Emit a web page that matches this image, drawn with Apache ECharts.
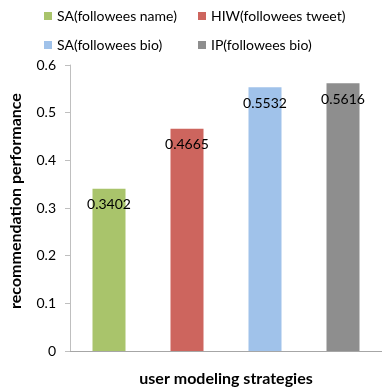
<!DOCTYPE html>
<html>
<head>
<meta charset="utf-8">
<script src="https://cdn.jsdelivr.net/npm/echarts@6/dist/echarts.min.js"></script>
<style>
  html, body { margin: 0; padding: 0; background: #ffffff; }
  #chart { width: 382px; height: 392px; }
</style>
</head>
<body>
<div id="chart"></div>
<script>
// Strategy names (one bar each) and their scores
const strategies = ['SA(followees name)', 'HIW(followees tweet)', 'SA(followees bio)', 'IP(followees bio)'];
const scores = [0.3402, 0.4665, 0.5532, 0.5616];
const barColors = ['#a9c46b', '#cd655e', '#a0c2ea', '#8e8e8e'];
const yTicks = { min: 0, max: 0.6, interval: 0.1 };

const FONT = 'Lato, "Open Sans", sans-serif';

// Each strategy is its own series so the legend lists it; stacking keeps bars centred.
const series = strategies.map((name, i) => ({
  name: name,
  type: 'bar',
  stack: 'all',
  barWidth: 33,
  itemStyle: { color: barColors[i] },
  label: {
    show: true,
    position: 'insideTop',
    distance: 9,
    color: '#000',
    fontFamily: FONT,
    fontSize: 14,
    formatter: p => p.value.toFixed(4)
  },
  data: strategies.map((_, j) => (j === i ? scores[i] : '-'))
}));

const legendSpots = [
  { left: 39, top: 4 },
  { left: 193, top: 4 },
  { left: 39, top: 33 },
  { left: 193, top: 33 }
];

const chart = echarts.init(document.getElementById('chart'));
chart.setOption({
  animation: false,
  legend: strategies.map((name, i) => ({
    data: [name],
    left: legendSpots[i].left,
    top: legendSpots[i].top,
    icon: 'rect',
    itemWidth: 8,
    itemHeight: 8,
    textStyle: { fontFamily: FONT, fontSize: 14, color: '#000' }
  })),
  grid: { left: 62, top: 65, width: 324, height: 292, containLabel: false },
  xAxis: {
    type: 'category',
    data: strategies,
    axisLine: { lineStyle: { color: '#a6a6a6' } },
    axisTick: { show: false },
    axisLabel: { show: false },
    name: 'user modeling strategies',
    nameLocation: 'middle',
    nameGap: 20,
    nameTextStyle: { fontFamily: FONT, fontSize: 16, fontWeight: 'bold', color: '#000' }
  },
  yAxis: {
    type: 'value',
    min: yTicks.min,
    max: yTicks.max,
    interval: yTicks.interval,
    axisLine: { show: true, lineStyle: { color: '#bfbfbf' } },
    axisTick: { show: true, length: 5, lineStyle: { color: '#bfbfbf' } },
    splitLine: { show: false },
    axisLabel: {
      margin: 14,
      fontFamily: FONT,
      fontSize: 14,
      color: '#000',
      formatter: v => (v === 0 ? '0' : String(Math.round(v * 10) / 10))
    },
    name: 'recommendation performance',
    nameLocation: 'middle',
    nameGap: 46,
    nameTextStyle: { fontFamily: FONT, fontSize: 16, fontWeight: 'bold', color: '#000', padding: [0, 0, 0, 14] }
  },
  series: series
});
</script>
</body>
</html>
